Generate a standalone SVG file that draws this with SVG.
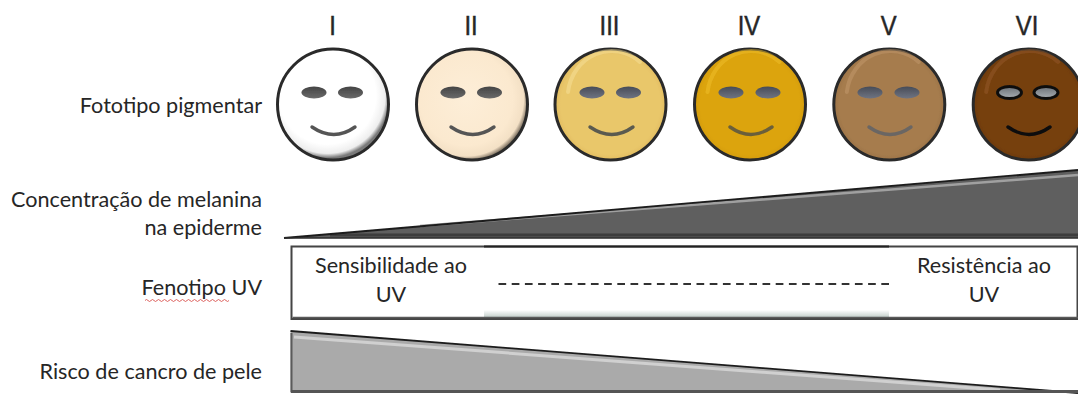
<svg xmlns="http://www.w3.org/2000/svg" width="1078" height="394" viewBox="0 0 1078 394">
<style>
text{font-family:Lato,"Open Sans","Liberation Sans",sans-serif;fill:#262626}
.lab{font-size:21.6px;text-anchor:end}
.mid{font-size:21.6px;text-anchor:middle}
.num{font-family:"Liberation Sans",Arial,sans-serif;font-size:28px;text-anchor:middle;fill:#262626;stroke:#262626;stroke-width:0.5}
.ring{stroke:#2a2a2a;stroke-width:3}
.smile{fill:none;stroke-width:3.4;stroke-linecap:round}
.shine{fill:none;stroke-width:4;stroke-linecap:round;opacity:.5}
</style>
<defs>
<filter id="soft" x="-5%" y="-5%" width="110%" height="110%"><feGaussianBlur stdDeviation="0.6"/></filter>
<radialGradient id="f1" cx="45%" cy="42%" r="56%"><stop offset="0.78" stop-color="#fff"/><stop offset="0.93" stop-color="#eee"/><stop offset="1" stop-color="#7a7a7a"/></radialGradient>
<radialGradient id="f2" cx="45%" cy="45%" r="56%"><stop offset="0" stop-color="#fdeed8"/><stop offset="0.75" stop-color="#fbe9cf"/><stop offset="0.92" stop-color="#f3e0c5"/><stop offset="1" stop-color="#75695a"/></radialGradient>
<radialGradient id="f3" cx="50%" cy="50%" r="52%"><stop offset="0.86" stop-color="#e9c76b"/><stop offset="0.94" stop-color="#e4bf62"/><stop offset="1" stop-color="#7f6a2c"/></radialGradient>
<radialGradient id="f4" cx="50%" cy="50%" r="52%"><stop offset="0.86" stop-color="#dca40d"/><stop offset="0.94" stop-color="#d69e0c"/><stop offset="1" stop-color="#5b4207"/></radialGradient>
<radialGradient id="f5" cx="50%" cy="50%" r="52%"><stop offset="0.86" stop-color="#a67c4e"/><stop offset="0.94" stop-color="#9f7649"/><stop offset="1" stop-color="#4e3a23"/></radialGradient>
<radialGradient id="f6" cx="50%" cy="50%" r="52%"><stop offset="0.86" stop-color="#76400d"/><stop offset="0.94" stop-color="#703c0b"/><stop offset="1" stop-color="#2a1604"/></radialGradient>
<linearGradient id="eyeG" x1="0" y1="0" x2="0" y2="1"><stop offset="0" stop-color="#444"/><stop offset="1" stop-color="#6a6a6a"/></linearGradient>
<linearGradient id="eyeB" x1="0" y1="0" x2="0" y2="1"><stop offset="0" stop-color="#474c57"/><stop offset="1" stop-color="#6f7482"/></linearGradient>
<linearGradient id="eyeL" x1="0" y1="0" x2="0" y2="1"><stop offset="0" stop-color="#6a7076"/><stop offset="1" stop-color="#a9afb4"/></linearGradient>
<linearGradient id="boxG" x1="0" y1="0" x2="0" y2="1"><stop offset="0" stop-color="#fff"/><stop offset="0.9" stop-color="#fff"/><stop offset="1" stop-color="#c5d0cc"/></linearGradient>
</defs>

<g id="labels">
<text class="lab" x="262" y="113">Fototipo pigmentar</text>
<text class="lab" x="262" y="206.5">Concentração de melanina</text>
<text class="lab" x="262" y="235">na epiderme</text>
<text class="lab" x="262" y="295">Fenotipo UV</text>
<path d="M145 300.5q1.5-2 3 0t3 0 3 0 3 0 3 0 3 0 3 0 3 0 3 0 3 0 3 0 3 0 3 0 3 0 3 0 3 0 3 0 3 0 3 0 3 0 3 0 3 0 3 0 3 0 3 0 3 0 3 0 3 0" fill="none" stroke="#d9534f" stroke-width="0.9"/>
<text class="lab" x="262" y="379">Risco de cancro de pele</text>
</g>

<g id="numerals">
<text class="num" transform="translate(332.5 35) scale(.85 1)">I</text>
<text class="num" transform="translate(471 35) scale(.85 1)">II</text>
<text class="num" transform="translate(609.5 35) scale(.85 1)">III</text>
<text class="num" transform="translate(749 35) scale(.85 1)">IV</text>
<text class="num" transform="translate(888.7 35) scale(.85 1)">V</text>
<text class="num" transform="translate(1027 35) scale(.85 1)">VI</text>
</g>

<g id="face-I" filter="url(#soft)">
<circle class="ring" cx="333" cy="104.5" r="55.5" fill="url(#f1)"/>
<ellipse cx="314" cy="92.5" rx="12.5" ry="6" fill="url(#eyeG)"/><ellipse cx="350.5" cy="92.5" rx="12.5" ry="6" fill="url(#eyeG)"/>
<path class="smile" d="M312 127Q334 142 355 127" stroke="#555"/>
</g>
<g id="face-II" filter="url(#soft)">
<circle class="ring" cx="472" cy="104.5" r="55.5" fill="url(#f2)"/>
<ellipse cx="453" cy="92.5" rx="12.5" ry="6" fill="url(#eyeG)"/><ellipse cx="489.5" cy="92.5" rx="12.5" ry="6" fill="url(#eyeG)"/>
<path class="smile" d="M451 127Q473 142 494 127" stroke="#555"/>
</g>
<g id="face-III" filter="url(#soft)">
<circle class="ring" cx="610.5" cy="104.5" r="55.5" fill="url(#f3)"/>
<path class="shine" d="M568 92A44 47 0 0 1 640 62" stroke="#f7e29a"/>
<ellipse cx="592" cy="92.5" rx="12.5" ry="6" fill="url(#eyeB)"/><ellipse cx="628.5" cy="92.5" rx="12.5" ry="6" fill="url(#eyeB)"/>
<path class="smile" d="M590 127Q612 142 633 127" stroke="#5a5a50"/>
</g>
<g id="face-IV" filter="url(#soft)">
<circle class="ring" cx="750" cy="104.5" r="55.5" fill="url(#f4)"/>
<path class="shine" d="M707.5 92A44 47 0 0 1 779.5 62" stroke="#f0c030"/>
<ellipse cx="731" cy="92.5" rx="12.5" ry="6" fill="url(#eyeB)"/><ellipse cx="768" cy="92.5" rx="12.5" ry="6" fill="url(#eyeB)"/>
<path class="smile" d="M730 127Q751 142 772 127" stroke="#6b5f3a"/>
</g>
<g id="face-V" filter="url(#soft)">
<circle class="ring" cx="889.3" cy="104.5" r="55.5" fill="url(#f5)"/>
<path class="shine" d="M846.8 92A44 47 0 0 1 918.8 62" stroke="#c49a6c"/>
<ellipse cx="870" cy="92.5" rx="12.5" ry="6" fill="url(#eyeB)"/><ellipse cx="907" cy="92.5" rx="12.5" ry="6" fill="url(#eyeB)"/>
<path class="smile" d="M869 127Q890 142 911 127" stroke="#6b6663"/>
</g>
<g id="face-VI" filter="url(#soft)">
<circle class="ring" cx="1028.7" cy="104.5" r="55.5" fill="url(#f6)"/>
<path class="shine" d="M986.2 92A44 47 0 0 1 1058.2 62" stroke="#95592a"/>
<ellipse cx="1009.5" cy="92.5" rx="12" ry="6" fill="url(#eyeL)" stroke="#111" stroke-width="3"/><ellipse cx="1046" cy="92.5" rx="12" ry="6" fill="url(#eyeL)" stroke="#111" stroke-width="3"/>
<path class="smile" d="M1008 127Q1029 142 1050 127" stroke="#0c0c0c"/>
</g>

<g id="melanin-wedge" filter="url(#soft)">
<polygon points="284,238 1078,170 1078,238" fill="#5f5f5f"/>
<path d="M420 226L1078 175" fill="none" stroke="#a0a0a0" stroke-width="2.5"/>
<path d="M330 235H1078" stroke="#3e3e3e" stroke-width="3"/>
<path d="M284 238L1078 170" fill="none" stroke="#1c1c1c" stroke-width="1.8"/>
<path d="M284 238H1078" stroke="#2a2a2a" stroke-width="1.6"/>
</g>

<g id="uv-box" filter="url(#soft)">
<rect x="484" y="247" width="405" height="70" fill="url(#boxG)"/>
<rect x="291.5" y="246.5" width="786" height="72.5" fill="none" stroke="#444" stroke-width="2"/>
<path d="M484 246.5H889" stroke="#222" stroke-width="2"/>
<path d="M292.5 317.5H1078" stroke="#5a5a5a" stroke-width="1.4"/>
<path d="M889 284H498.5" fill="none" stroke="#333" stroke-width="2.2" stroke-dasharray="7.7 5.5"/>
</g>
<g id="uv-text">
<text class="mid" x="391" y="273">Sensibilidade ao</text>
<text class="mid" x="391" y="301.5">UV</text>
<text class="mid" x="984" y="273">Resistência ao</text>
<text class="mid" x="984" y="301.5">UV</text>
</g>

<g id="risk-wedge" filter="url(#soft)">
<polygon points="290.5,331 1078,393 290.5,393" fill="#aaa"/>
<path d="M294 337L1000 390" fill="none" stroke="#d0d0d0" stroke-width="3"/>
<path d="M291.5 333V392" stroke="#5a5a5a" stroke-width="2"/>
<path d="M290.5 331L1078 393" fill="none" stroke="#1c1c1c" stroke-width="1.8"/>
<path d="M291 391.5H1078" stroke="#555" stroke-width="3"/>
</g>
</svg>
